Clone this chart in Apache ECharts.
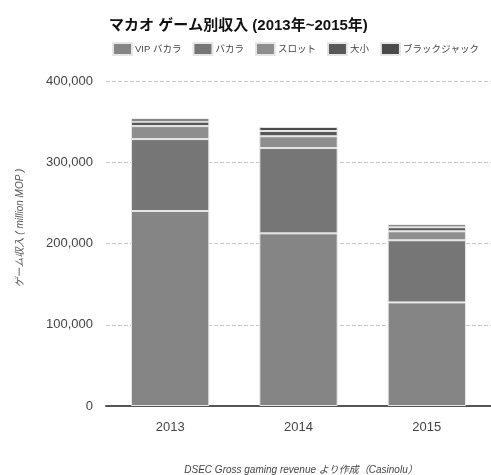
<!DOCTYPE html>
<html>
<head>
<meta charset="utf-8">
<script src="https://cdn.jsdelivr.net/npm/echarts@6/dist/echarts.min.js"></script>
<style>
  html, body { margin: 0; padding: 0; background: #fff; }
  #chart { width: 491px; height: 475px; }
</style>
</head>
<body>
<div id="chart"></div>
<script>
  // data (million MOP)
  var years = ['2013', '2014', '2015'];
  var vipBaccarat = [240000, 212500, 127500];
  var baccarat = [88500, 105000, 76500];
  var slots = [16000, 14500, 11000];
  var daisho = [5500, 6500, 5000];
  var blackjack = [4000, 5000, 3500];
  var yTicks = [0, 100000, 200000, 300000, 400000];

  var font = "'Liberation Sans', 'Noto Sans CJK JP', sans-serif";

  var chart = echarts.init(document.getElementById('chart'));

  function barSeries(name, data, color) {
    return {
      name: name,
      type: 'bar',
      stack: 'total',
      barWidth: '61%',
      data: data,
      itemStyle: {
        color: color,
        borderColor: '#e6e6e6',
        borderWidth: 1
      }
    };
  }

  var option = {
    backgroundColor: '#fff',
    animation: false,
    title: {
      text: 'マカオ ゲーム別収入 (2013年~2015年)',
      left: 104,
      top: 13,
      textStyle: {
        fontFamily: font,
        fontSize: 15,
        fontWeight: 'bold',
        color: '#111'
      }
    },
    legend: {
      left: 107,
      top: 37,
      width: 420,
      itemWidth: 19,
      itemHeight: 12,
      itemGap: 11,
      icon: 'rect',
      textStyle: { fontSize: 9.5, color: '#444', fontFamily: font, padding: [0, 0, 0, -2] },
      data: ['VIP バカラ', 'バカラ', 'スロット', '大小', 'ブラックジャック']
    },
    grid: {
      left: 106,
      right: -6,
      top: 81,
      bottom: 69,
      containLabel: false
    },
    xAxis: {
      type: 'category',
      data: years,
      axisTick: { show: false },
      axisLine: { lineStyle: { color: '#555', width: 2 } },
      axisLabel: { fontFamily: font, fontSize: 13, color: '#444', margin: 15 }
    },
    yAxis: {
      type: 'value',
      min: yTicks[0],
      max: yTicks[yTicks.length - 1],
      interval: 100000,
      axisLine: { show: false },
      axisTick: { show: false },
      splitLine: { lineStyle: { color: '#c8c8c8', type: [4, 2] } },
      axisLabel: {
        fontFamily: font,
        fontSize: 13,
        color: '#444',
        margin: 13,
        formatter: function (v) { return v.toLocaleString('en-US'); }
      }
    },
    graphic: [
      {
        type: 'text',
        x: 20,
        y: 228,
        rotation: Math.PI / 2,
        style: {
          text: 'ゲーム収入 ( million MOP )',
          fontSize: 10,
          fontStyle: 'italic',
          fontFamily: font,
          fill: '#555',
          align: 'center',
          verticalAlign: 'middle'
        }
      },
      {
        type: 'text',
        x: 301,
        y: 470,
        style: {
          text: 'DSEC Gross gaming revenue より作成（Casinolu）',
          fontSize: 10,
          fontStyle: 'italic',
          fontFamily: font,
          fill: '#444',
          align: 'center',
          verticalAlign: 'middle'
        }
      }
    ],
    series: [
      barSeries('VIP バカラ', vipBaccarat, '#858585'),
      barSeries('バカラ', baccarat, '#767676'),
      barSeries('スロット', slots, '#8e8e8e'),
      barSeries('大小', daisho, '#585858'),
      barSeries('ブラックジャック', blackjack, '#4a4a4a')
    ]
  };

  chart.setOption(option);
</script>
</body>
</html>
